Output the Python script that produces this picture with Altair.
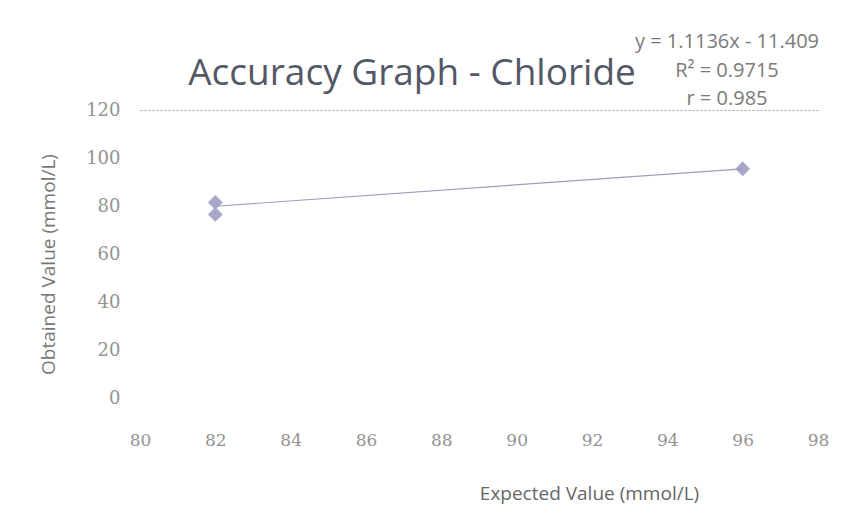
import altair as alt
import pandas as pd

# Data
expected = [82, 82, 96]
obtained = [81.5, 76.5, 95.5]

# Trendline as reported on the chart
slope = 1.1136
intercept = -11.409
trend_x = [82, 96]
trend_y = [slope * x + intercept for x in trend_x]

eq_lines = ["y = 1.1136x - 11.409", "R² = 0.9715", "r = 0.985"]
eq_y = [-68, -39, -11]

title_text = ["Accuracy Graph - Chloride"]

x_ticks = [80, 82, 84, 86, 88, 90, 92, 94, 96, 98]
y_ticks = [0, 20, 40, 60, 80, 100, 120]

pts = pd.DataFrame({"x": expected, "y": obtained})
trend = pd.DataFrame({"x": trend_x, "y": trend_y})
eq = pd.DataFrame({"t": eq_lines, "py": eq_y})
ttl = pd.DataFrame({"t": title_text})

xs = alt.Scale(domain=[80, 98], nice=False, zero=False)
ys = alt.Scale(domain=[0, 120], nice=False)

x_axis = alt.Axis(values=x_ticks, title="Expected Value (mmol/L)", grid=False,
                  domain=False, ticks=False, labelPadding=34, labelFlush=False,
                  labelFont="DejaVu Serif", labelFontSize=17, labelColor="#939393",
                  titleFont="Open Sans", titleFontSize=19, titleFontWeight="normal",
                  titleColor="#666666", titleX=449, titleY=95,
                  titleAlign="center", titleBaseline="middle")
y_axis = alt.Axis(values=y_ticks, title="Obtained Value (mmol/L)",
                  grid=True,
                  gridColor=alt.condition("datum.value == 120", alt.value("#a0a0a0"), alt.value("transparent")),
                  gridDash=[2, 2],
                  domain=False, ticks=False, labelPadding=20, labelFlush=False,
                  labelFont="DejaVu Serif", labelFontSize=18, labelColor="#939393",
                  titleFont="Open Sans", titleFontSize=19, titleFontWeight="normal",
                  titleColor="#777777", titleX=-92, titleY=154,
                  titleAlign="center", titleBaseline="middle")

line = alt.Chart(trend).mark_line(color="#9aa3b5", strokeWidth=1.2).encode(
    x=alt.X("x:Q", scale=xs, axis=x_axis),
    y=alt.Y("y:Q", scale=ys, axis=y_axis),
)

points = alt.Chart(pts).mark_point(shape="diamond", filled=True, size=220,
                                    color="#9c9ec4", opacity=0.9).encode(
    x=alt.X("x:Q", scale=xs),
    y=alt.Y("y:Q", scale=ys),
)

eq_text = alt.Chart(eq).mark_text(font="Open Sans", fontSize=20, color="#7a7a7a",
                                  align="center", baseline="middle").encode(
    x=alt.value(587),
    y=alt.Y("py:Q", scale=None),
    text="t:N",
)

title_mark = alt.Chart(ttl).mark_text(font="Open Sans", fontSize=37, color="#535866",
                                      align="center", baseline="alphabetic").encode(
    x=alt.value(272),
    y=alt.value(-25),
    text="t:N",
)

chart = alt.layer(line, points, eq_text, title_mark).properties(
    width=678,
    height=288,
    background="white",
    autosize=alt.AutoSizeParams(type="none"),
    padding={"left": 132, "top": 102, "right": 41, "bottom": 116},
).configure_view(strokeWidth=0, stroke="transparent")

chart.save("out.html", embed_options={"renderer": "svg", "actions": False})
